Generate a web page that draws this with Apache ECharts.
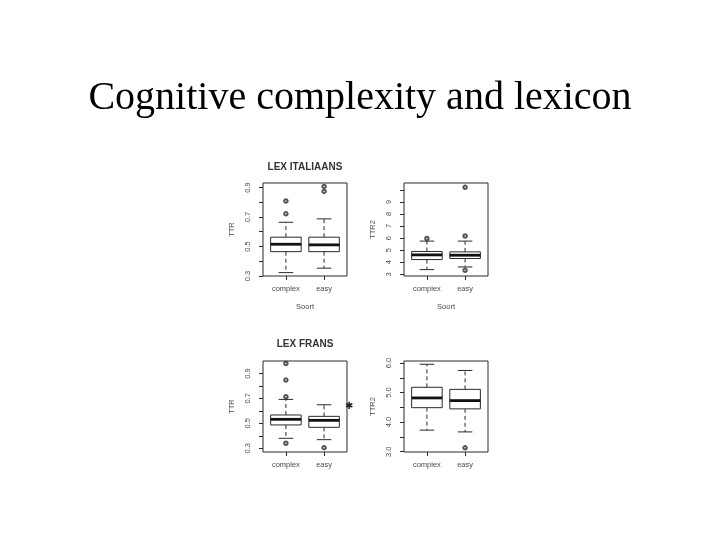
<!DOCTYPE html>
<html>
<head>
<meta charset="utf-8">
<script src="https://cdn.jsdelivr.net/npm/echarts@6/dist/echarts.min.js"></script>
<style>
html,body{margin:0;padding:0;background:#fff;}
#chart{width:720px;height:540px;}
</style>
</head>
<body>
<div id="chart"></div>
<script>
// ---------- data ----------
var categories = ['complex', 'easy'];
// each box: [lowerWhisker, Q1, median, Q3, upperWhisker]
var itaTTR = [[0.323, 0.465, 0.515, 0.563, 0.664], [0.353, 0.465, 0.511, 0.563, 0.687]];
var itaTTROut = [[1, 0.721], [1, 0.808], [2, 0.873], [2, 0.907]];
var itaTTR2 = [[3.39, 4.22, 4.61, 4.89, 5.75], [3.61, 4.31, 4.58, 4.86, 5.75]];
var itaTTR2Out = [[1, 5.97], [2, 6.17], [2, 10.2], [2, 3.33]];
var fraTTR = [[0.38, 0.487, 0.532, 0.567, 0.692], [0.369, 0.468, 0.524, 0.556, 0.649]];
var fraTTROut = [[1, 0.98], [1, 0.847], [1, 0.713], [1, 0.34], [2, 0.305]];
var fraTTR2 = [[3.73, 4.49, 4.82, 5.18, 5.96], [3.67, 4.45, 4.73, 5.11, 5.75]];
var fraTTR2Out = [[2, 3.13]];

var ttrTicks = [0.3, 0.4, 0.5, 0.6, 0.7, 0.8, 0.9];
var ttrLabels = [0.3, 0.5, 0.7, 0.9];
var itaTTR2Ticks = [3, 4, 5, 6, 7, 8, 9, 10];
var itaTTR2Labels = [3, 4, 5, 6, 7, 8, 9];
var fraTTR2Ticks = [3.0, 3.5, 4.0, 4.5, 5.0, 5.5, 6.0];
var fraTTR2Labels = [3.0, 4.0, 5.0, 6.0];

var mainTitle = 'Cognitive complexity and lexicon';
var panelTitles = ['LEX ITALIAANS', 'LEX FRANS'];
var xName = 'Soort';
var yNames = ['TTR', 'TTR2', 'TTR', 'TTR2'];

// ---------- layout ----------
var LINE = '#2a2a2a';
var TXT = '#4a4a4a';
var FONT = 'Liberation Sans, Arial, sans-serif';

var grids = [
  {left: 263, top: 183, width: 84, height: 93},
  {left: 404, top: 183, width: 84, height: 93},
  {left: 263, top: 361, width: 84, height: 91},
  {left: 404, top: 361, width: 84, height: 91}
];
var yRanges = [[0.3, 0.93], [2.86, 10.56], [0.27, 1.0], [2.99, 6.07]];
var yTickSets = [ttrTicks, itaTTR2Ticks, ttrTicks, fraTTR2Ticks];
var yLabelSets = [ttrLabels, itaTTR2Labels, ttrLabels, fraTTR2Labels];
var yDecimals = [1, 0, 1, 1];
var boxSets = [itaTTR, itaTTR2, fraTTR, fraTTR2];
var outSets = [itaTTROut, itaTTR2Out, fraTTROut, fraTTR2Out];

function boxData(boxes) {
  return boxes.map(function (b, i) { return [i + 1, b[0], b[1], b[2], b[3], b[4]]; });
}

function renderBox(params, api) {
  var x = api.value(0);
  var lw = api.value(1), q1 = api.value(2), med = api.value(3), q3 = api.value(4), uw = api.value(5);
  var hw = 0.4, sw = 0.19;
  var pTL = api.coord([x - hw, q3]);
  var pBR = api.coord([x + hw, q1]);
  var pM1 = api.coord([x - hw, med]);
  var pM2 = api.coord([x + hw, med]);
  var pC3 = api.coord([x, q3]);
  var pCU = api.coord([x, uw]);
  var pC1 = api.coord([x, q1]);
  var pCL = api.coord([x, lw]);
  var pU1 = api.coord([x - sw, uw]);
  var pU2 = api.coord([x + sw, uw]);
  var pL1 = api.coord([x - sw, lw]);
  var pL2 = api.coord([x + sw, lw]);
  var st = {stroke: LINE, lineWidth: 1, fill: null};
  var dash = {stroke: LINE, lineWidth: 1, lineDash: [4, 3]};
  return {
    type: 'group',
    children: [
      {type: 'line', shape: {x1: pC3[0], y1: pC3[1], x2: pCU[0], y2: pCU[1]}, style: dash},
      {type: 'line', shape: {x1: pC1[0], y1: pC1[1], x2: pCL[0], y2: pCL[1]}, style: dash},
      {type: 'line', shape: {x1: pU1[0], y1: pU1[1], x2: pU2[0], y2: pU2[1]}, style: st},
      {type: 'line', shape: {x1: pL1[0], y1: pL1[1], x2: pL2[0], y2: pL2[1]}, style: st},
      {type: 'rect', shape: {x: pTL[0], y: pTL[1], width: pBR[0] - pTL[0], height: pBR[1] - pTL[1]},
        style: {stroke: LINE, lineWidth: 1, fill: '#fff'}},
      {type: 'line', shape: {x1: pM1[0], y1: pM1[1], x2: pM2[0], y2: pM2[1]},
        style: {stroke: '#111', lineWidth: 2.8}}
    ]
  };
}

var option = {
  backgroundColor: '#fff',
  animation: false,
  title: [
    {text: mainTitle, left: 'center', top: 73,
      textStyle: {fontFamily: 'Liberation Serif, Times New Roman, serif', fontSize: 40, fontWeight: 'normal', color: '#000'}},
    {text: panelTitles[0], left: 300, top: 157, textAlign: 'center',
      textStyle: {fontFamily: FONT, fontSize: 10, fontWeight: 'bold', color: '#333'}},
    {text: panelTitles[1], left: 300, top: 334, textAlign: 'center',
      textStyle: {fontFamily: FONT, fontSize: 10, fontWeight: 'bold', color: '#333'}}
  ],
  grid: grids.map(function (g) {
    return {left: g.left, top: g.top, width: g.width, height: g.height, show: true,
      borderColor: LINE, borderWidth: 1, backgroundColor: 'transparent', containLabel: false};
  }),
  xAxis: grids.map(function (g, i) {
    return {
      type: 'value', gridIndex: i, min: 0.4, max: 2.6,
      name: i < 2 ? xName : '', nameLocation: 'middle', nameGap: 27,
      nameTextStyle: {fontFamily: FONT, fontSize: 7.5, color: TXT},
      axisLine: {show: false},
      splitLine: {show: false},
      axisTick: {show: true, length: 4, customValues: [1, 2], lineStyle: {color: LINE}},
      axisLabel: {show: true, margin: 9, customValues: [1, 2], fontFamily: FONT, fontSize: 7.5, color: TXT,
        formatter: function (v) { return categories[Math.round(v) - 1] || ''; }}
    };
  }),
  yAxis: grids.map(function (g, i) {
    return {
      type: 'value', gridIndex: i, min: yRanges[i][0], max: yRanges[i][1],
      name: yNames[i], nameLocation: 'middle', nameGap: 27, nameRotate: 90,
      nameTextStyle: {fontFamily: FONT, fontSize: 7.5, color: TXT},
      axisLine: {show: false},
      splitLine: {show: false},
      axisTick: {show: true, length: 4, customValues: yTickSets[i], lineStyle: {color: LINE}},
      axisLabel: {show: true, rotate: 90, margin: 11, customValues: yLabelSets[i],
        fontFamily: FONT, fontSize: 7.5, color: TXT,
        formatter: (function (d) { return function (v) { return Number(v).toFixed(d); }; })(yDecimals[i])}
    };
  }),
  series: [],
  graphic: [
    {type: 'text', left: 345, top: 401, style: {text: '\u2731', fontSize: 10, fill: '#222', fontFamily: 'DejaVu Sans'}}
  ]
};

for (var i = 0; i < 4; i++) {
  option.series.push({
    type: 'custom', xAxisIndex: i, yAxisIndex: i,
    renderItem: renderBox,
    encode: {x: 0, y: [1, 2, 3, 4, 5]},
    data: boxData(boxSets[i]),
    clip: false, silent: true
  });
  option.series.push({
    type: 'scatter', xAxisIndex: i, yAxisIndex: i,
    symbol: 'emptyCircle', symbolSize: 3.5,
    itemStyle: {color: LINE, borderColor: LINE, borderWidth: 0.8},
    data: outSets[i], silent: true
  });
}

var chart = echarts.init(document.getElementById('chart'), null, {renderer: 'canvas'});
chart.setOption(option);
</script>
</body>
</html>
